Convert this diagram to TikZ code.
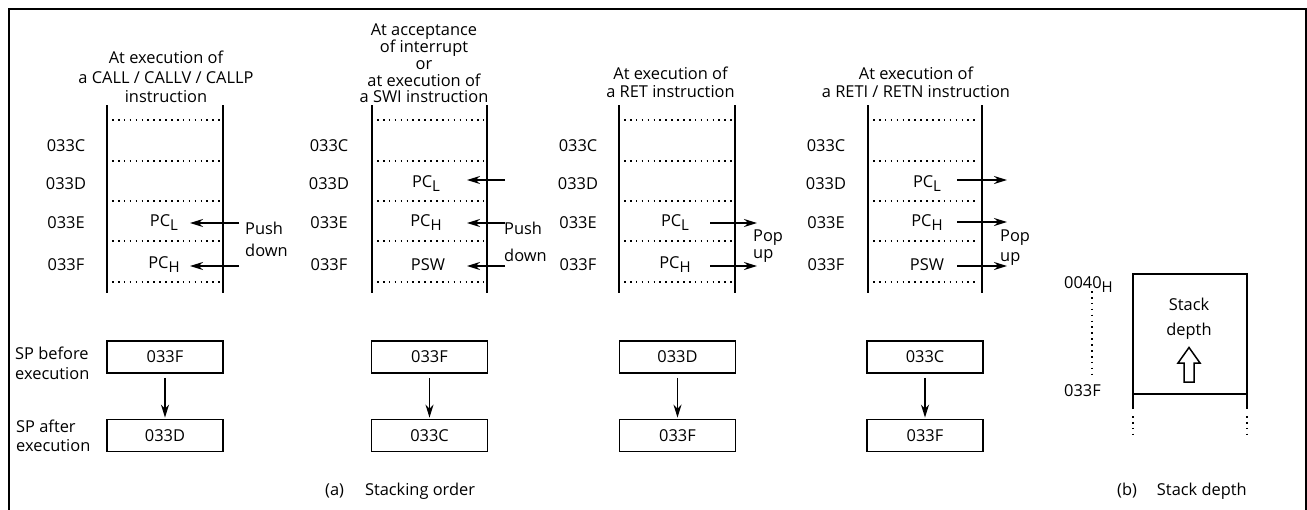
\documentclass[tikz,border=0pt]{standalone}
\usepackage{fontspec}
\setmainfont{Open Sans}
\usetikzlibrary{arrows.meta}
\newcommand\lowsub[1]{\lower4pt\hbox{\fontsize{15}{15}\selectfont #1}}
\tikzset{
  txt/.style={font=\fontsize{16.4}{19}\selectfont, inner sep=0pt},
  colline/.style={line width=1.8pt},
  dotline/.style={line width=1.6pt, dash pattern=on 1.6pt off 4.3pt},
  arr/.style={line width=1.8pt, -{Stealth[length=13pt,width=8pt]}},
  spbox/.style={draw, line width=1.8pt, minimum width=116pt, minimum height=32pt, inner sep=0pt, font=\fontsize{16.4}{19}\selectfont},
}
\begin{document}
\begin{tikzpicture}[x=1pt,y=-1pt]
\useasboundingbox (0,0) rectangle (1307,509);
\clip (0,0) rectangle (1307,509);
\draw[line width=2pt] (9,530) -- (9,9) -- (1306,9) -- (1306,530);

% stack columns
\foreach \l/\r in {107/223,372/487,619/735,868/982}{
  \draw[colline] (\l,105) -- (\l,293);
  \draw[colline] (\r,105) -- (\r,293);
  \foreach \yy in {120,161,201,241,282} \draw[dotline] (\l+5,\yy) -- (\r-3,\yy);
}

% titles
\node[txt, align=center, anchor=north, font=\fontsize{16.4}{19.5}\selectfont] (t1) at (166,51) {At execution of\\a CALL / CALLV / CALLP\\instruction};
\node[txt, align=center, anchor=north, font=\fontsize{16.4}{16.7}\selectfont] (t2) at (424,24) {At acceptance\\of interrupt\\or\\at execution of\\a SWI instruction};
\node[txt, align=center, anchor=north, font=\fontsize{16.4}{18}\selectfont] (t3) at (670.5,67) {At execution of\\a RET instruction};
\node[txt, align=center, anchor=north, font=\fontsize{16.4}{18}\selectfont] (t4) at (916,67) {At execution of\\a RETI / RETN instruction};

% address labels
\foreach \xx/\p in {66/1,329/2,578/3,826/4}{
  \node[txt, anchor=base] (lC\p) at (\xx,151.5) {033C};
  \node[txt, anchor=base] (lD\p) at (\xx,189.5) {033D};
  \node[txt, anchor=base] (lE\p) at (\xx,228) {033E};
  \node[txt, anchor=base] (lF\p) at (\xx,270.5) {033F};
}

% panel 1 entries
\node[txt, anchor=base] (e1E) at (164,226) {PC\lowsub{L}};
\node[txt, anchor=base] (e1F) at (164,268.5) {PC\lowsub{H}};
\coordinate (s1E) at (239,223); \coordinate (h1E) at (190,223);
\coordinate (s1F) at (239,266); \coordinate (h1F) at (190,266);
\draw[arr] (s1E) -- (h1E);
\draw[arr] (s1F) -- (h1F);
\node[txt, align=left, anchor=north west, font=\fontsize{16.4}{22}\selectfont] (pd1) at (245,221.5) {Push\\down};

% panel 2 entries
\node[txt, anchor=base] (e2D) at (426,187.5) {PC\lowsub{L}};
\node[txt, anchor=base] (e2E) at (426,226) {PC\lowsub{H}};
\node[txt, anchor=base] (e2F) at (428,270.5) {PSW};
\coordinate (s2D) at (505,180); \coordinate (h2D) at (467,180);
\coordinate (s2E) at (505,223); \coordinate (h2E) at (467,223);
\coordinate (s2F) at (505,266); \coordinate (h2F) at (467,266);
\draw[arr] (s2D) -- (h2D);
\draw[arr] (s2E) -- (h2E);
\draw[arr] (s2F) -- (h2F);
\node[txt, align=left, anchor=north west, font=\fontsize{16.4}{27}\selectfont] (pd2) at (504,221.5) {Push\\down};

% panel 3 entries
\node[txt, anchor=base] (e3E) at (675,226) {PC\lowsub{L}};
\node[txt, anchor=base] (e3F) at (675,268.5) {PC\lowsub{H}};
\coordinate (s3E) at (710,223); \coordinate (h3E) at (757,223);
\coordinate (s3F) at (710,266); \coordinate (h3F) at (757,266);
\draw[arr] (s3E) -- (h3E);
\draw[arr] (s3F) -- (h3F);
\node[txt, align=left, anchor=north west, font=\fontsize{16.4}{17}\selectfont] (pu3) at (753,229.5) {Pop\\up};

% panel 4 entries
\node[txt, anchor=base] (e4D) at (927,187.5) {PC\lowsub{L}};
\node[txt, anchor=base] (e4E) at (927,226) {PC\lowsub{H}};
\node[txt, anchor=base] (e4F) at (927,270.5) {PSW};
\coordinate (s4D) at (957,180); \coordinate (h4D) at (1007,180);
\coordinate (s4E) at (957,222); \coordinate (h4E) at (1007,222);
\coordinate (s4F) at (957,266); \coordinate (h4F) at (1007,266);
\draw[arr] (s4D) -- (h4D);
\draw[arr] (s4E) -- (h4E);
\draw[arr] (s4F) -- (h4F);
\node[txt, align=left, anchor=north west, font=\fontsize{16.4}{20}\selectfont] (pu4) at (1000,229.5) {Pop\\up};

% SP labels
\node[txt, align=left, anchor=west, font=\fontsize{16.4}{20}\selectfont] (spb) at (15,363) {SP before\\execution};
\node[txt, align=left, anchor=west, font=\fontsize{16.4}{19}\selectfont] (spa) at (16,436) {SP after\\execution};

% SP boxes
\node[spbox] (b1a) at (165,357) {033F};
\node[spbox] (b1b) at (165,435.5) {033D};
\node[spbox] (b2a) at (429.5,357) {033F};
\node[spbox] (b2b) at (429.5,435.5) {033C};
\node[spbox] (b3a) at (677.5,357) {033D};
\node[spbox] (b3b) at (677.5,435.5) {033F};
\node[spbox] (b4a) at (925,357) {033C};
\node[spbox] (b4b) at (925,435.5) {033F};
\foreach \p in {1,2,3,4}{
  \draw[arr, shorten <=4pt, shorten >=1pt] (b\p a) -- (b\p b);
}

% caption a
\node[txt, anchor=base west] (capa) at (325,495) {(a)\hspace{21pt}Stacking order};

% panel b
\draw[colline] (1133,409) -- (1133,274) -- (1247,274) -- (1247,409);
\draw[colline] (1133,394) -- (1247,394);
\draw[dotline] (1133,416) -- (1133,438);
\draw[dotline] (1247,416) -- (1247,438);
\draw[dotline] (1092,291) -- (1092,379);
\node[txt, anchor=base west] (top40) at (1064,288) {0040\lowsub{H}};
\node[txt, anchor=base west] (bot3f) at (1064,396.5) {033F};
\node[txt, align=center, anchor=north, font=\fontsize{16.4}{25}\selectfont] (sd) at (1189,298) {Stack\\depth};
\draw[line width=1.5pt, line join=miter] (1184,382) -- (1184,363) -- (1178,363) -- (1189,347.5) -- (1200,363) -- (1194,363) -- (1194,382) -- cycle;
\node[txt, anchor=base west] (capb) at (1117,495) {(b)\hspace{20pt}Stack depth};
\end{tikzpicture}
\end{document}
